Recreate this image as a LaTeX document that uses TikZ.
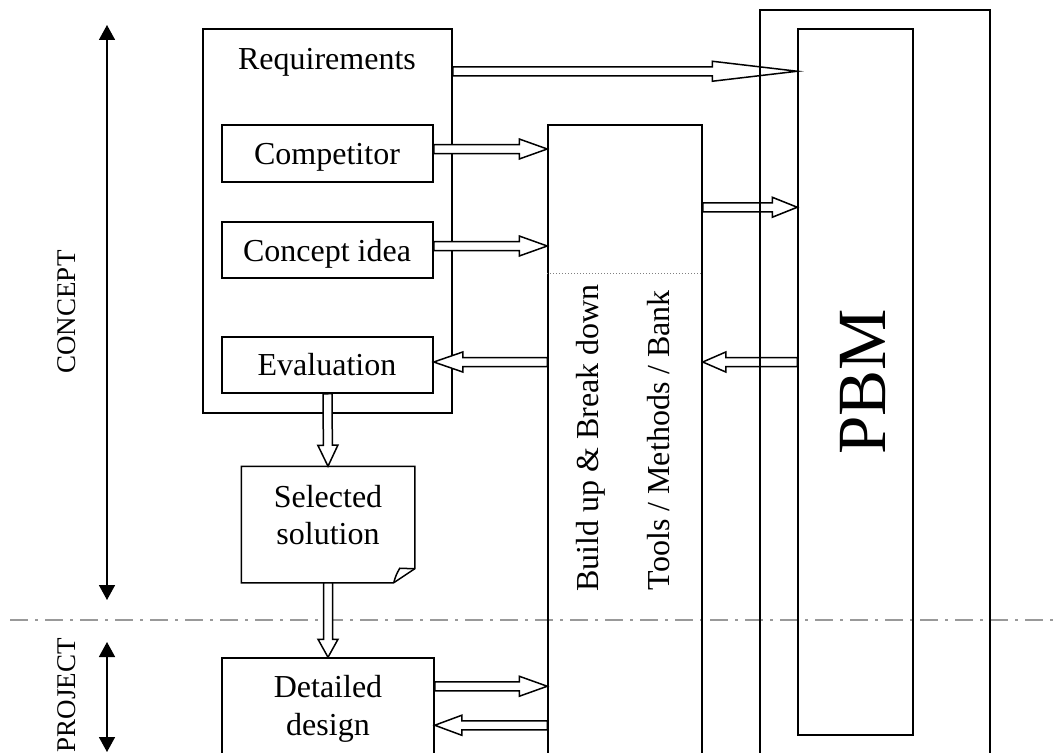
\documentclass[tikz,border=0pt]{standalone}
\usepackage{fontspec}
\setmainfont{Liberation Serif}
\usetikzlibrary{calc,arrows.meta}
\newcommand{\hollowarrow}[3]{%
  \coordinate (hb) at ($(#2)!#3!(#1)$);
  \draw[hollow] ($(#1)!4.5pt!90:(#2)$) -- ($(hb)!4.5pt!90:(#2)$) -- ($(hb)!10pt!90:(#2)$) -- (#2) -- ($(hb)!10pt!-90:(#2)$) -- ($(hb)!4.5pt!-90:(#2)$) -- ($(#1)!4.5pt!-90:(#2)$) -- cycle;}
\tikzset{
  box/.style={draw, line width=1.5pt, inner sep=0pt},
  ghost/.style={inner sep=0pt},
  hollow/.style={draw, fill=white, line width=1.5pt, line join=miter},
  txt/.style={font=\fontsize{32}{37}\selectfont, inner sep=0pt, anchor=base},
  vtxt/.style={txt, rotate=90},
  phase/.style={font=\fontsize{27}{32}\selectfont, inner sep=0pt, anchor=base, rotate=90},
  span/.style={line width=1.6pt, {Triangle[length=15pt,width=16pt]}-{Triangle[length=15pt,width=16pt]}},
  sep/.style={draw=black!40, line width=1.5pt, dash pattern=on 18pt off 7pt on 3pt off 7pt}
}
\begin{document}
\begin{tikzpicture}[x=1pt, y=-1pt, line width=1.5pt]
\useasboundingbox (0,0) rectangle (1059,752);
\clip (0,0) rectangle (1059,752);

% phase separator
\draw[sep] (10,620) -- (1059,620);

% boxes
\node[box, minimum width=249pt, minimum height=384pt] (left) at (327.5,221) {};
\node[box, minimum width=211pt, minimum height=57pt] (comp) at (327.5,153.5) {};
\node[box, minimum width=211pt, minimum height=56pt] (idea) at (327.5,250) {};
\node[box, minimum width=211pt, minimum height=56pt] (eval) at (327.5,365) {};
\node[ghost, minimum width=172pt, minimum height=115pt] (sel) at (328,524.5) {};
\draw[line width=1.5pt, line join=miter] (sel.north west) -- (sel.north east) -- ([yshift=14pt]sel.south east) -- ([xshift=-21pt]sel.south east) -- (sel.south west) -- cycle;
\draw[line width=1.5pt, line join=miter] ([yshift=14pt]sel.south east) -- ([xshift=-15pt,yshift=14.5pt]sel.south east) to[bend right=8] ([xshift=-21pt]sel.south east);
\node[box, minimum width=212pt, minimum height=122pt] (det) at (328,719) {};
\node[box, minimum width=154pt, minimum height=665pt] (build) at (625,457.5) {};
\node[box, minimum width=115pt, minimum height=706pt] (pbm) at (855.5,382) {};

% texts
\node[txt] (reqt) at (327,70) {Requirements};
\node[txt] (compt) at (327,164) {Competitor};
\node[txt] (ideat) at (327,261) {Concept idea};
\node[txt] (evalt) at (327,375) {Evaluation};
\node[txt] (selt1) at (328,507) {Selected};
\node[txt] (selt2) at (328,544) {solution};
\node[txt] (dett1) at (328,697) {Detailed};
\node[txt] (dett2) at (328,735) {design};
\node[vtxt] (buildt) at (598,438) {Build up \& Break down};
\node[vtxt] (toolt) at (669,440) {Tools / Methods / Bank};
\node[font=\fontsize{69}{80}\selectfont, inner sep=0pt, anchor=base, rotate=90] (pbmt) at (885,382) {PBM};
\node[phase] (conceptt) at (75,312) {CONCEPT};
\node[phase] (projectt) at (75,695) {PROJECT};

% dotted divider in build column
\draw[black!50, line width=1pt, dotted] ([yshift=-149pt]build.north west) -- ([yshift=-149pt]build.north east);

% phase spans
\coordinate (ctop) at (107,25);
\coordinate (cbot) at (107,600);
\coordinate (ptop) at (107,642);
\coordinate (pbot) at (107,752);
\draw[span] (ctop) -- (cbot);
\draw[span] (ptop) -- (pbot);

% hollow arrows
\coordinate (r1) at ([yshift=-43pt]left.north east);
\hollowarrow{r1}{pbm.west |- r1}{85pt}
\coordinate (c1) at ([yshift=4.5pt]comp.east);
\hollowarrow{c1}{build.west |- c1}{28pt}
\coordinate (i1) at ([yshift=4pt]idea.east);
\hollowarrow{i1}{build.west |- i1}{28pt}
\coordinate (e1) at ([yshift=3pt]eval.east);
\hollowarrow{build.west |- e1}{e1}{29pt}
\coordinate (b1) at ([yshift=-83pt]build.north east);
\hollowarrow{b1}{pbm.west |- b1}{25pt}
\hollowarrow{pbm.west |- e1}{build.east |- e1}{23pt}
\hollowarrow{eval.south}{sel.north}{21pt}
\hollowarrow{sel.south}{det.north}{18pt}
\coordinate (d1) at ([yshift=-29pt]det.north east);
\hollowarrow{d1}{build.west |- d1}{28pt}
\coordinate (d2) at ([yshift=-68pt]det.north east);
\hollowarrow{build.west |- d2}{d2}{27pt}

% outer PBM frame on top
\node[box, minimum width=230pt, minimum height=780pt] (pbmouter) at (875,400) {};
\end{tikzpicture}
\end{document}
